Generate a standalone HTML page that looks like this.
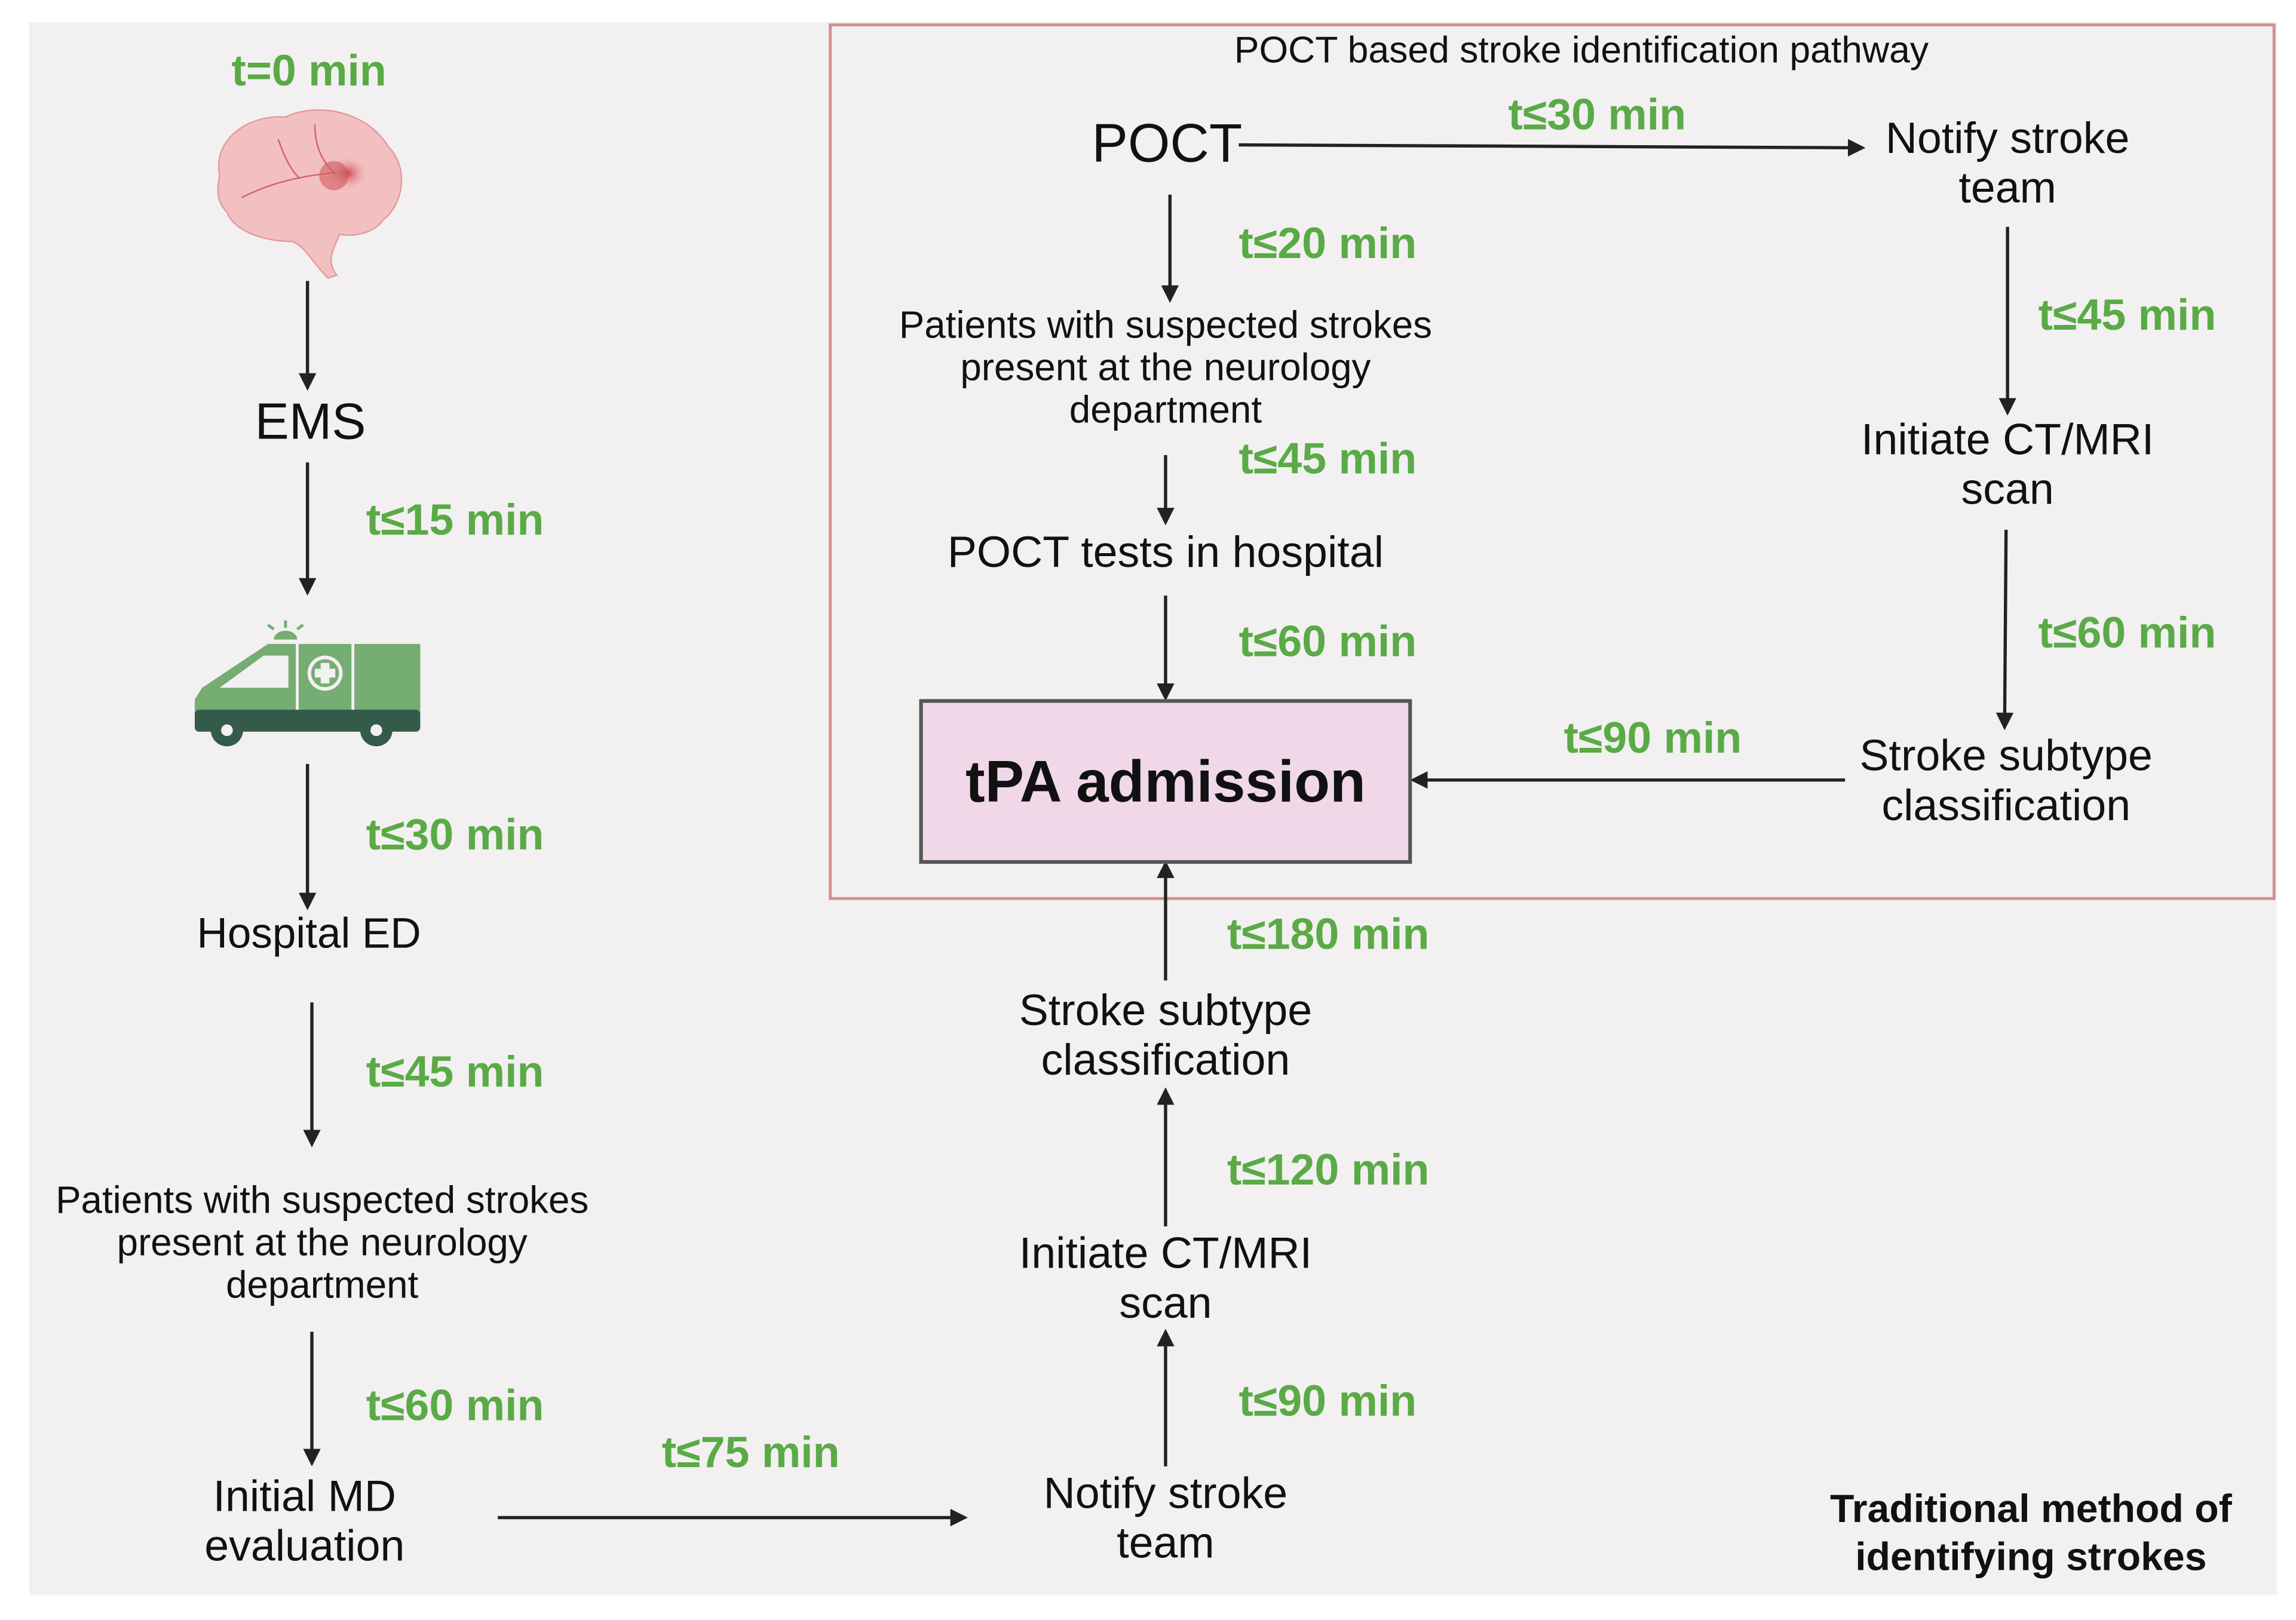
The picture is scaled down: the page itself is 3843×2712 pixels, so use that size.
<!DOCTYPE html>
<html><head><meta charset="utf-8"><style>
html,body{margin:0;padding:0;background:#fff}
svg{display:block}
text{font-family:"Liberation Sans",sans-serif}
.g{fill:#5aaa46;font-weight:bold;font-size:30px}
.b{fill:#111;font-size:29px}
</style></head><body>
<svg width="3843" height="2712" viewBox="0 0 1568 1107" preserveAspectRatio="none" xmlns="http://www.w3.org/2000/svg">
<defs>
<marker id="a" markerWidth="12" markerHeight="12" refX="10" refY="6" orient="auto" markerUnits="userSpaceOnUse"><path d="M0,0 L12,6 L0,12 z" fill="#222"/></marker>
<radialGradient id="rg" cx="0.62" cy="0.4" r="0.35"><stop offset="0" stop-color="#c9454a"/><stop offset="1" stop-color="#f3c4c6" stop-opacity="0"/></radialGradient>
</defs>
<rect x="0" y="0" width="1568" height="1107" fill="#fff"/>
<rect x="20" y="15" width="1535" height="1075" fill="#f2f0f1"/>
<rect x="567" y="17" width="986" height="597" fill="none" stroke="#d48e8e" stroke-width="2"/>

<g stroke="#222" stroke-width="2.2" fill="none" marker-end="url(#a)">
<line x1="210" y1="192" x2="210" y2="265"/>
<line x1="210" y1="316" x2="210" y2="405"/>
<line x1="210" y1="522" x2="210" y2="620"/>
<line x1="213" y1="685" x2="213" y2="782"/>
<line x1="213" y1="910" x2="213" y2="1000"/>
<line x1="340" y1="1037" x2="659" y2="1037"/>
<line x1="796" y1="1002" x2="796" y2="910"/>
<line x1="796" y1="838" x2="796" y2="745"/>
<line x1="796" y1="670" x2="796" y2="590"/>
<line x1="846" y1="99" x2="1272" y2="101"/>
<line x1="1371" y1="155" x2="1371" y2="282"/>
<line x1="1370" y1="362" x2="1369" y2="497"/>
<line x1="1260" y1="533" x2="965" y2="533"/>
<line x1="799" y1="133" x2="799" y2="205"/>
<line x1="796" y1="311" x2="796" y2="357"/>
<line x1="796" y1="407" x2="796" y2="477"/>
</g>

<!-- brain -->
<g>
<path d="M150,120 C145,95 170,78 195,80 C215,70 250,75 265,100 C280,115 275,140 262,150 C255,160 240,162 232,160 C228,170 222,178 230,188 L224,190 C212,178 210,170 200,165 C180,165 160,158 155,145 C148,138 148,130 150,120 z" fill="#f3c0c2" stroke="#e39a9c" stroke-width="1"/>
<ellipse cx="232" cy="122" rx="22" ry="18" fill="url(#rg)"/>
<circle cx="228" cy="120" r="10" fill="#d25a5f" opacity="0.6"/>
<path d="M165,135 C185,125 205,120 230,118 M190,95 C195,110 200,118 205,122 M215,85 C215,100 220,110 228,118" stroke="#d06468" stroke-width="1" fill="none"/>
</g>

<!-- ambulance -->
<g>
<path d="M138,470 L183,440 L287,440 L287,488 L133,488 L133,478 z" fill="#75ad72"/>
<path d="M150,470 L180,448 L197,448 L197,470 z" fill="#f2f0f1"/>
<line x1="203" y1="440" x2="203" y2="488" stroke="#f2f0f1" stroke-width="2"/>
<line x1="241" y1="440" x2="241" y2="488" stroke="#f2f0f1" stroke-width="2"/>
<circle cx="222" cy="460" r="12" fill="#f2f0f1"/><circle cx="222" cy="460" r="9.5" fill="#75ad72"/>
<path d="M219,453 h6 v4 h4 v6 h-4 v4 h-6 v-4 h-4 v-6 h4 z" fill="#f2f0f1"/>
<rect x="133" y="485" width="154" height="15" rx="3" fill="#345b4a"/>
<circle cx="155" cy="499" r="11" fill="#345b4a"/><circle cx="155" cy="499" r="4" fill="#f2f0f1"/>
<circle cx="257" cy="499" r="11" fill="#345b4a"/><circle cx="257" cy="499" r="4" fill="#f2f0f1"/>
<path d="M187,437 a8,6 0 0 1 16,0 z" fill="#75ad72"/>
<path d="M195,424 v5 M183,427 l4,3 M207,427 l-4,3" stroke="#75ad72" stroke-width="2"/>
</g>

<!-- tPA box -->
<rect x="629" y="479" width="334" height="110" fill="#f0d8e8" stroke="#555" stroke-width="2.5"/>
<text x="796" y="534" text-anchor="middle" dominant-baseline="central" font-weight="bold" font-size="40" fill="#111">tPA admission</text>

<g class="g" dominant-baseline="central">
<text x="211" y="48" text-anchor="middle">t=0 min</text>
<text x="250" y="355">t≤15 min</text>
<text x="250" y="570">t≤30 min</text>
<text x="250" y="732">t≤45 min</text>
<text x="250" y="960">t≤60 min</text>
<text x="452" y="992">t≤75 min</text>
<text x="846" y="957">t≤90 min</text>
<text x="838" y="799">t≤120 min</text>
<text x="838" y="638">t≤180 min</text>
<text x="1030" y="78">t≤30 min</text>
<text x="846" y="166">t≤20 min</text>
<text x="846" y="313">t≤45 min</text>
<text x="846" y="438">t≤60 min</text>
<text x="1392" y="215">t≤45 min</text>
<text x="1392" y="432">t≤60 min</text>
<text x="1068" y="504">t≤90 min</text>
</g>

<g class="b" text-anchor="middle" dominant-baseline="central">
<text x="212" y="288" font-size="35">EMS</text>
<text x="211" y="638">Hospital ED</text>
<text x="220" y="820" font-size="26">Patients with suspected strokes</text>
<text x="220" y="849" font-size="26">present at the neurology</text>
<text x="220" y="878" font-size="26">department</text>
<text x="208" y="1022" font-size="30">Initial MD</text>
<text x="208" y="1056" font-size="30">evaluation</text>
<text x="796" y="1020" font-size="30">Notify stroke</text>
<text x="796" y="1054" font-size="30">team</text>
<text x="796" y="856" font-size="30">Initiate CT/MRI</text>
<text x="796" y="890" font-size="30">scan</text>
<text x="796" y="690" font-size="30">Stroke subtype</text>
<text x="796" y="724" font-size="30">classification</text>
<text x="1080" y="34" font-size="25.5">POCT based stroke identification pathway</text>
<text x="797" y="98" font-size="37">POCT</text>
<text x="1371" y="94" font-size="30">Notify stroke</text>
<text x="1371" y="128" font-size="30">team</text>
<text x="1371" y="300" font-size="30">Initiate CT/MRI</text>
<text x="1371" y="334" font-size="30">scan</text>
<text x="1370" y="516" font-size="30">Stroke subtype</text>
<text x="1370" y="550" font-size="30">classification</text>
<text x="796" y="222" font-size="26">Patients with suspected strokes</text>
<text x="796" y="251" font-size="26">present at the neurology</text>
<text x="796" y="280" font-size="26">department</text>
<text x="796" y="377" font-size="30">POCT tests in hospital</text>
<text x="1387" y="1031" font-size="27" font-weight="bold">Traditional method of</text>
<text x="1387" y="1064" font-size="27" font-weight="bold">identifying strokes</text>
</g>
</svg>
</body></html>
